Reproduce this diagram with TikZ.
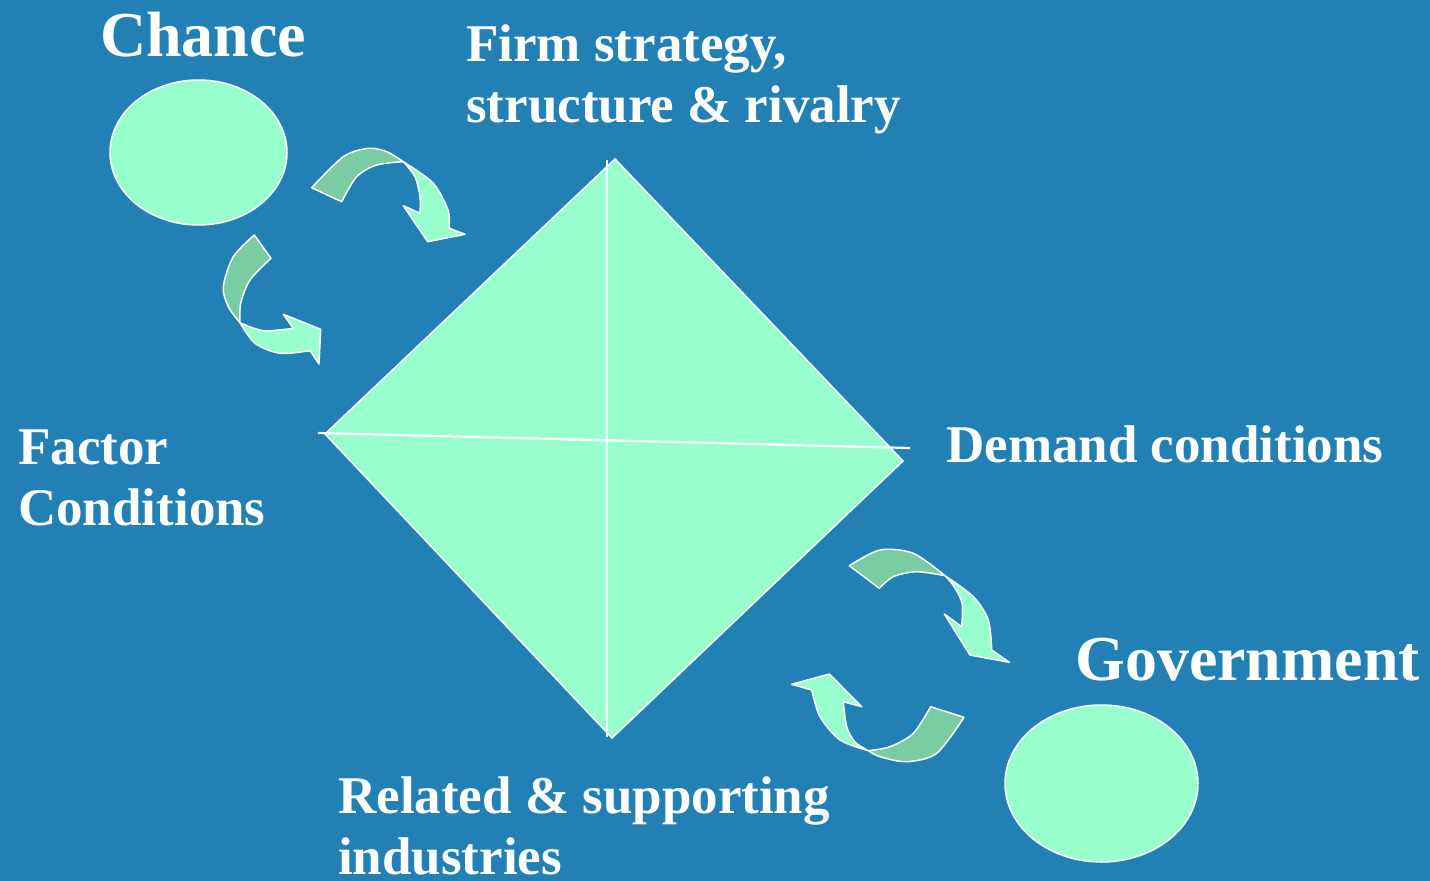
\documentclass[tikz,border=0pt]{standalone}
\usepackage{fontspec}
\setmainfont{Liberation Serif}
\usetikzlibrary{shapes.geometric}
\definecolor{bg}{RGB}{34,128,181}
\definecolor{mint}{RGB}{153,255,204}
\definecolor{mintdark}{RGB}{122,204,163}
\tikzset{
  heading/.style={text=white,inner sep=0pt,anchor=base west,align=left,
    font=\bfseries\fontsize{53}{61}\selectfont},
  bighead/.style={heading,font=\bfseries\fontsize{64}{72}\selectfont},
  blob/.style={ellipse,draw=white,line width=1.5pt,fill=mint,inner sep=0pt},
  front/.style={fill=mint,draw=white,line width=1.5pt,line join=round},
  back/.style={fill=mintdark,draw=white,line width=1.5pt,line join=round},
  cross/.style={white,line width=2.2pt}
}

\begin{document}
\begin{tikzpicture}[x=1pt,y=-1pt]
\fill[bg] (0,0) rectangle (1430,881);
\useasboundingbox (0,0) rectangle (1430,881);

% the diamond
\coordinate (top) at (615,159);
\coordinate (right) at (903,461);
\coordinate (bottom) at (612,738);
\coordinate (left) at (325,434);
\filldraw[fill=mint,draw=white,line width=1.5pt] (top) -- (right) -- (bottom) -- (left) -- cycle;
\coordinate (vtop) at (607,160);
\coordinate (vbot) at (607,737);
\coordinate (hleft) at (318,433);
\coordinate (hright) at (910,448);
\draw[cross] (vtop) -- (vbot);
\draw[cross] (hleft) -- (hright);

\node[blob,minimum width=177pt,minimum height=145pt] (chance) at (198.5,152.5) {};
\node[blob,minimum width=193pt,minimum height=157pt] (gov) at (1101.5,783.5) {};

% multi-line nodes sit on their last baseline
\node[bighead] (chancetxt) at (100,56) {Chance};
\node[bighead] (govtxt) at (1075,680) {Government};
\node[heading] (firm) at (466,122) {Firm strategy,\\structure \& rivalry};
\node[heading] (factor) at (18,525) {Factor\\Conditions};
\node[heading] (demand) at (946,462) {Demand conditions};
\node[heading] (related) at (338,874) {Related \& supporting\\industries};

% chance -> firm
\draw[back] plot[smooth] coordinates {(311.7,187.7) (343.3,156.7) (368.3,148.3) (386.7,151.7) (403.3,161.7)}
  -- plot[smooth] coordinates {(403.3,161.7) (376.7,165) (356.7,176.7) (341.7,201.7)} -- cycle;
\draw[front] plot[smooth] coordinates {(403.3,161.7) (433,183) (448,210) (449.3,228.3)}
  -- (465,234.3) -- (427.7,241.7) -- (403.3,205.7) -- (420,213.3)
  -- plot[smooth] coordinates {(420,213.3) (420,196.7) (415,176.7) (403.3,161.7)} -- cycle;

% chance -> factor
\draw[back] plot[smooth] coordinates {(254.3,235) (233.3,256.7) (223.3,286.7) (228.3,306.7) (240,322.7)}
  -- plot[smooth] coordinates {(240,322.7) (240.7,303.3) (250,280) (271,258.3)} -- cycle;
\draw[front] plot[smooth] coordinates {(240,322.7) (255,343.3) (280,353.3) (310,350.7)}
  -- (319,364) -- (320.7,329.3) -- (283.3,314.3) -- (293.3,328.3)
  -- plot[smooth] coordinates {(293.3,328.3) (263.3,330.7) (240,322.7)} -- cycle;

% demand -> government
\draw[back] plot[smooth] coordinates {(849.3,565.7) (880,550) (913.3,553.3) (945,575.7)}
  -- plot[smooth] coordinates {(945,575.7) (916.7,571.7) (893.3,576.7) (879.3,588.3)} -- cycle;
\draw[front] plot[smooth] coordinates {(945,575.7) (973.3,596.7) (988.3,620) (991.7,650)}
  -- (1009.3,662.3) -- (970,655) -- (944.3,614) -- (961.7,626.7)
  -- plot[smooth] coordinates {(961.7,626.7) (962,603) (953,585) (945,575.7)} -- cycle;

% government -> related
\draw[back] plot[smooth] coordinates {(964,717.3) (936.7,753.3) (906.7,761.7) (880,756.7) (868.3,750.7)}
  -- plot[smooth] coordinates {(868.3,750.7) (890,746.7) (913.3,733.3) (930.7,706.7)} -- cycle;
\draw[front] plot[smooth] coordinates {(868.3,750.7) (840,740) (820,716.7) (811.7,690)}
  -- (791.7,684.3) -- (829.3,674) -- (861.7,706.7) -- (843.3,701.7)
  -- plot[smooth] coordinates {(843.3,701.7) (846.7,726.7) (855,742) (868.3,750.7)} -- cycle;
\end{tikzpicture}
\end{document}
